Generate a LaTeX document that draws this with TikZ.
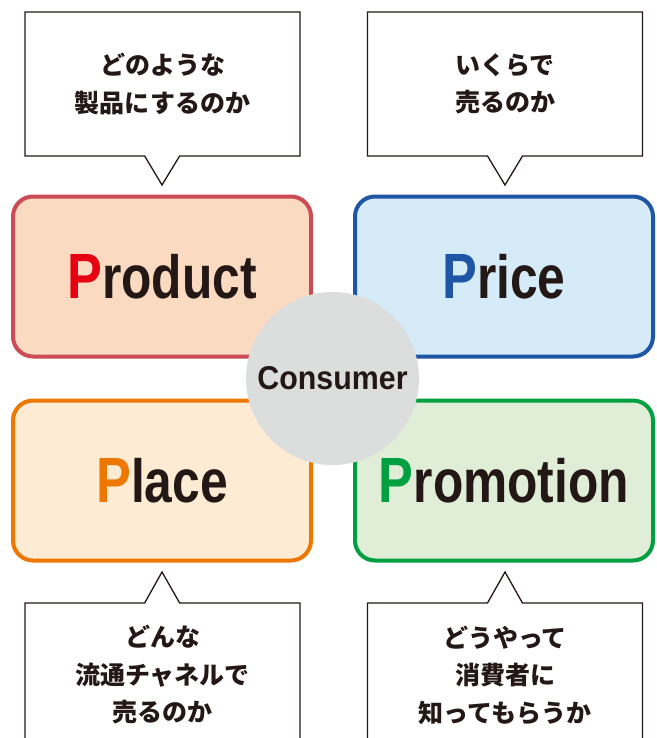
\documentclass[tikz,border=0pt]{standalone}
\usepackage{fontspec}
\newfontfamily\jp{Noto Sans CJK JP}
\newfontfamily\lab{Liberation Sans}[FakeStretch=0.815]
\newfontfamily\labc{Liberation Sans}[FakeStretch=0.92]
\usetikzlibrary{shapes.callouts}
\definecolor{txt}{HTML}{231815}
\definecolor{prodB}{HTML}{CD4B55}
\definecolor{prodF}{HTML}{FADAC0}
\definecolor{prodP}{HTML}{E60012}
\definecolor{priceB}{HTML}{1F55A5}
\definecolor{priceF}{HTML}{D5EBF8}
\definecolor{placeB}{HTML}{EE7700}
\definecolor{placeF}{HTML}{FDEBD3}
\definecolor{promB}{HTML}{00A040}
\definecolor{promF}{HTML}{E0EED8}
\definecolor{consF}{HTML}{DCDDDD}
\tikzset{
  bubble/.style={rectangle callout, draw=txt, line width=1.3pt, fill=white,
    minimum width=275pt, minimum height=144pt, inner sep=0pt, align=center,
    text=txt, callout pointer width=35pt,
    font=\jp\bfseries\fontsize{25}{37.5}\selectfont},
  fourp/.style={rounded corners=20pt, line width=4pt, minimum width=298pt,
    minimum height=160pt, inner sep=0pt, text=txt,
    font=\lab\bfseries\fontsize{61}{61}\selectfont},
}
\newcommand{\capP}[1]{{\fontsize{64}{64}\selectfont\color{#1}P}}
\begin{document}
\begin{tikzpicture}[x=1pt,y=-1pt]
\useasboundingbox (0,0) rectangle (656,738);
\fill[white] (0,0) rectangle (656,738);
% callouts
\node[bubble, callout absolute pointer={(162,185)}] (q1) at (162.5,84) {どのような\\製品にするのか};
\node[bubble, callout absolute pointer={(505,185)}] (q2) at (505,84) {いくらで\\売るのか};
\node[bubble, callout absolute pointer={(162,572)}] (q3) at (162.5,675) {どんな\\流通チャネルで\\売るのか};
\node[bubble, callout absolute pointer={(505,572)}] (q4) at (505,675) {どうやって\\消費者に\\知ってもらうか};
% four P boxes
\node[fourp, draw=prodB, fill=prodF] (product) at (162,276.5) {\capP{prodP}roduct};
\node[fourp, draw=priceB, fill=priceF] (price) at (504,276.5) {\capP{priceB}rice};
\node[fourp, draw=placeB, fill=placeF] (place) at (162,480.5) {\capP{placeB}lace};
\node[fourp, draw=promB, fill=promF] (promotion) at (504,480.5) {\capP{promB}romotion};
% consumer
\node[circle, fill=consF, minimum size=173pt, inner sep=0pt, text=txt,
  font=\labc\bfseries\fontsize{33}{33}\selectfont] (consumer) at (332.5,378.5) {Consumer};
\end{tikzpicture}
\end{document}
